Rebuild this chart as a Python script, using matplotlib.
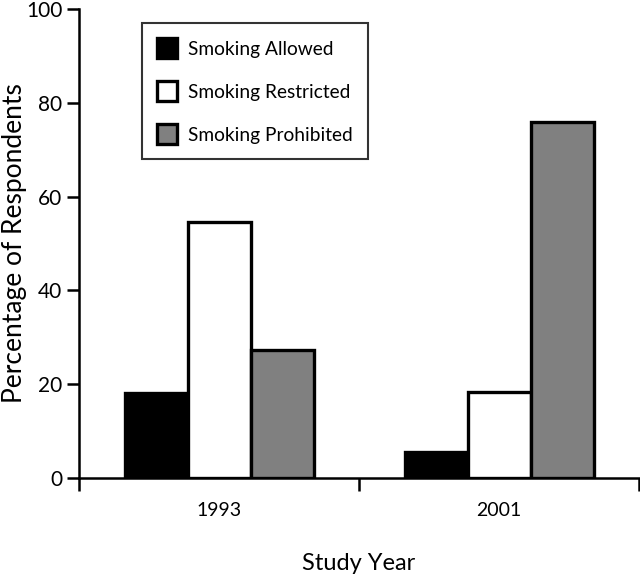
import matplotlib
matplotlib.use("Agg")
import matplotlib.pyplot as plt
import numpy as np

years = ["1993", "2001"]
series_names = ["Smoking Allowed", "Smoking Restricted", "Smoking Prohibited"]
allowed = [18.2, 5.6]
restricted = [54.6, 18.4]
prohibited = [27.2, 75.8]
colors = ["#000000", "#ffffff", "#808080"]

plt.rcParams['font.family'] = ['Lato', 'DejaVu Sans']

fig = plt.figure(figsize=(6.4, 5.87), dpi=100)
ax = fig.add_axes([79/640, 1-478/587, 560/640, 469/587])

x = np.arange(len(years))
w = 0.225
for i, (vals, c) in enumerate(zip([allowed, restricted, prohibited], colors)):
    ax.bar(x + (i-1)*w, vals, width=w, color=c, edgecolor='black', linewidth=2.4, label=series_names[i])

ax.set_xlim(-0.5, 1.5)
ax.set_ylim(0, 100)
ax.set_yticks([0, 20, 40, 60, 80, 100])
ax.set_xticks([-0.5, 0.5, 1.5])
ax.set_xticklabels([])
ax.set_xticks(x, minor=True)
ax.set_xticklabels(years, minor=True)
ax.tick_params(axis='x', which='minor', length=0, labelsize=14, pad=17)
ax.tick_params(axis='x', which='major', length=9, width=1.8, direction='out')
ax.tick_params(axis='y', length=9, width=1.8, labelsize=15, pad=3)
for s in ['top', 'right']:
    ax.spines[s].set_visible(False)
for s in ['left', 'bottom']:
    ax.spines[s].set_linewidth(1.8)

ax.set_ylabel("Percentage of Respondents", fontsize=19)
ax.yaxis.set_label_coords(-52/560, 0.5)
ax.set_xlabel("Study Year", fontsize=17, labelpad=25)

leg = ax.legend(loc='upper left', bbox_to_anchor=(63/560, 1-14/469), frameon=True, fancybox=False,
                edgecolor='black', fontsize=13.8, handlelength=1.05, handleheight=1.22,
                labelspacing=1.2, borderpad=0.8, handletextpad=0.55, borderaxespad=0)
leg.get_frame().set_linewidth(1.5)

fig.savefig("out.png", dpi=100)
